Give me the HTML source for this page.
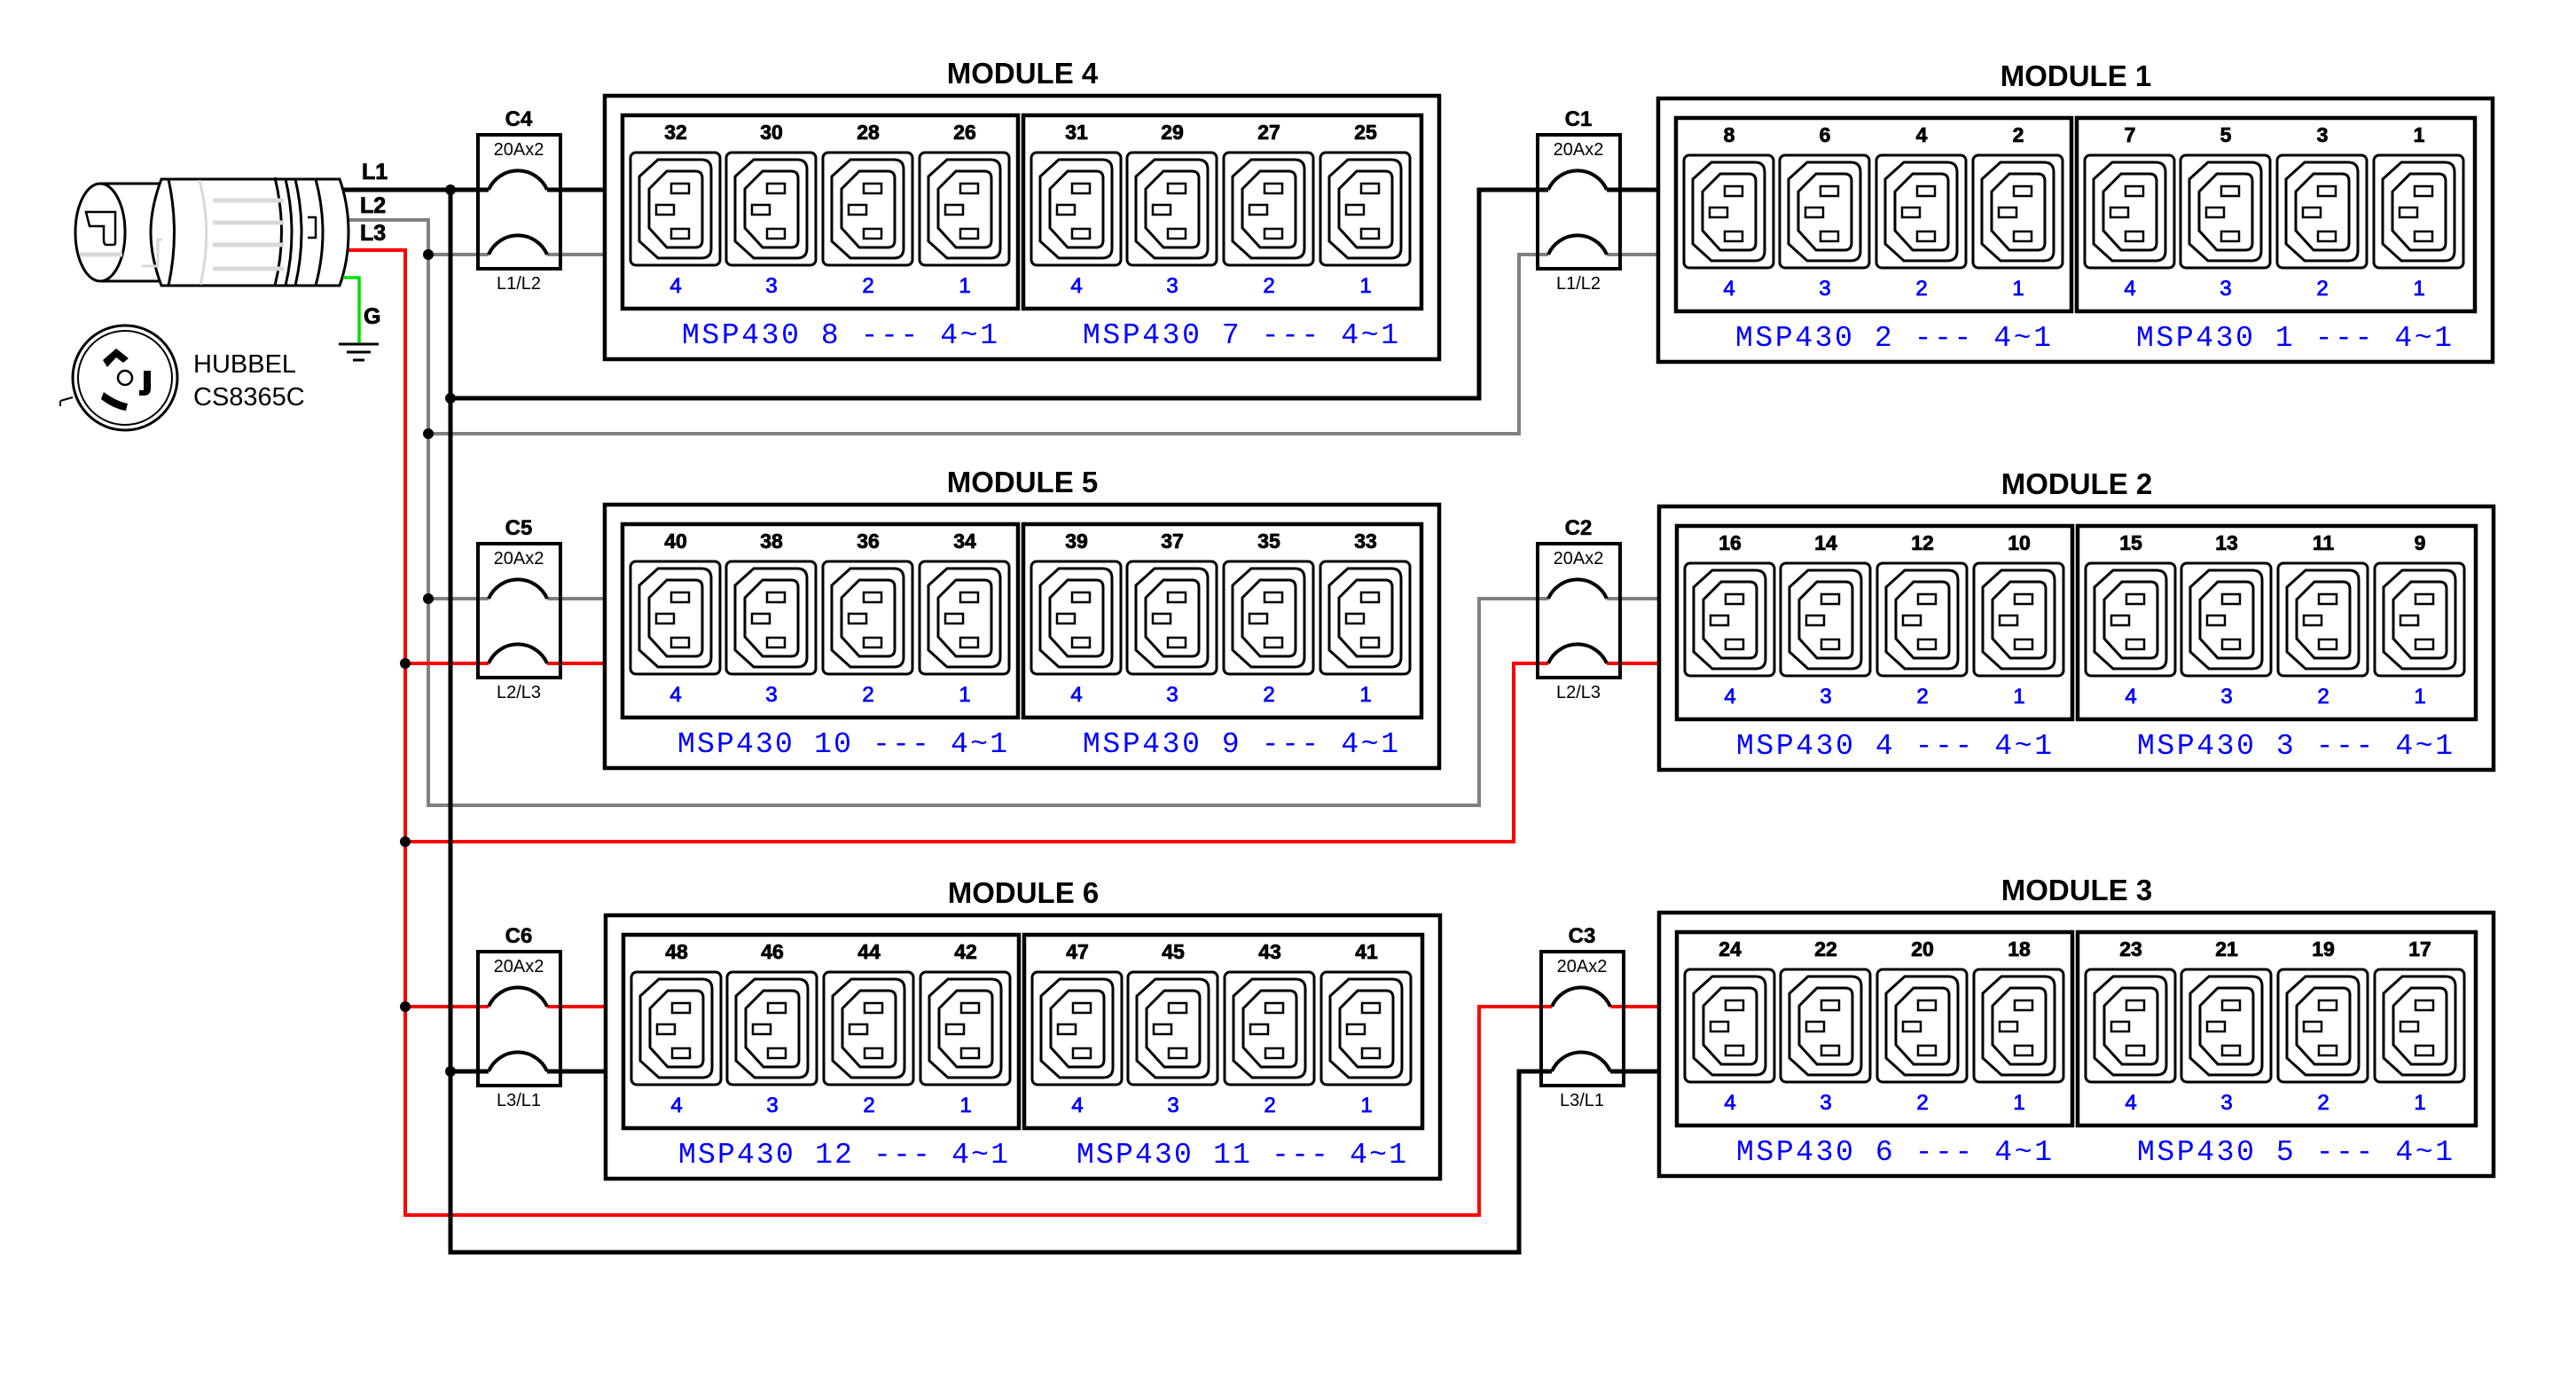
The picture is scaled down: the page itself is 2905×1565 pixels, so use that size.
<!DOCTYPE html>
<html><head><meta charset="utf-8"><style>
html,body{margin:0;padding:0;background:#fff;}
svg{display:block;}
text{font-family:"Liberation Sans",sans-serif;}
.t{font-weight:bold;font-size:33px;text-anchor:middle;}
.n{font-weight:bold;font-size:23px;text-anchor:middle;stroke:#000;stroke-width:0.8px;}
.b{font-size:24px;text-anchor:middle;fill:#00f;stroke:#00f;stroke-width:0.8px;}
.m{font-family:"Liberation Mono",monospace;font-size:33px;fill:#00f;}
.cl{font-weight:bold;font-size:24px;text-anchor:middle;stroke:#000;stroke-width:0.6px;}
.cs{font-size:20px;text-anchor:middle;}
</style></head><body>
<svg width="2905" height="1565" viewBox="0 0 2905 1565" xmlns="http://www.w3.org/2000/svg">
<defs>
<g id="o" fill="none" stroke="#000">
<rect x="1" y="1" width="101" height="127" rx="6" stroke-width="3"/>
<path d="M11,28 L32,9 H81 Q92,9 92,20 V109 Q92,120 81,120 H32 L11,101 Z" stroke-width="3"/>
<path d="M22,42 L42,22 H74 Q82,22 82,30 V100 Q82,108 74,108 H42 L22,86 Z" stroke-width="3"/>
<rect x="47" y="36" width="20" height="11" stroke-width="2.5"/>
<rect x="30" y="60" width="20" height="11" stroke-width="2.5"/>
<rect x="47" y="87" width="20" height="11" stroke-width="2.5"/>
</g>
<g id="mod">
<rect x="0" y="0" width="941" height="297" fill="none" stroke="#000" stroke-width="4.5"/>
<rect x="20" y="22" width="446" height="218" fill="none" stroke="#000" stroke-width="4.5"/>
<rect x="472" y="22" width="449" height="218" fill="none" stroke="#000" stroke-width="4.5"/>
<use href="#o" x="28" y="63"/><use href="#o" x="136" y="63"/><use href="#o" x="245" y="63"/><use href="#o" x="354" y="63"/>
<use href="#o" x="480" y="63"/><use href="#o" x="588" y="63"/><use href="#o" x="697" y="63"/><use href="#o" x="806" y="63"/>
<text class="b" x="80" y="222">4</text><text class="b" x="188" y="222">3</text><text class="b" x="297" y="222">2</text><text class="b" x="406" y="222">1</text>
<text class="b" x="532" y="222">4</text><text class="b" x="640" y="222">3</text><text class="b" x="749" y="222">2</text><text class="b" x="858" y="222">1</text>
</g>
<g id="brk">
<rect x="0" y="0" width="93" height="151" fill="none" stroke="#000" stroke-width="4"/>
<path d="M12,62 A36,36 0 0 1 78,62 M12,135 A36,36 0 0 1 78,135" fill="none" stroke="#000" stroke-width="4"/>
<text class="cs" x="46" y="23">20Ax2</text>
</g>
</defs>

<!-- wires -->
<g fill="none" stroke-linejoin="miter">
<g stroke="#808080" stroke-width="4">
<path d="M387,248 H483 V908 H1668 V675 H1746"/>
<path d="M483,287 H551 M617,287 H682"/>
<path d="M483,489 H1713 V287 H1746 M1812,287 H1870"/>
<path d="M483,675 H551 M617,675 H682 M1812,675 H1871"/>
</g>
<g stroke="#ff0000" stroke-width="4">
<path d="M387,282 H457 V1370 H1668 V1135 H1750"/>
<path d="M457,748 H551 M617,748 H682"/>
<path d="M457,949 H1707 V748 H1746 M1812,748 H1871"/>
<path d="M457,1135 H551 M617,1135 H683 M1816,1135 H1871"/>
</g>
<g stroke="#000" stroke-width="5">
<path d="M387,214 H551 M617,214 H682"/>
<path d="M508,214 V1412 H1713 V1208 H1750"/>
<path d="M508,449 H1668 V214 H1746 M1812,214 H1870"/>
<path d="M508,1208 H551 M617,1208 H683 M1816,1208 H1871"/>
</g>
</g>
<g fill="#000">
<circle cx="508" cy="214" r="6"/><circle cx="483" cy="287" r="6"/><circle cx="508" cy="449" r="6"/>
<circle cx="483" cy="489" r="6"/><circle cx="483" cy="675" r="6"/><circle cx="457" cy="748" r="6"/>
<circle cx="457" cy="949" r="6"/><circle cx="457" cy="1135" r="6"/><circle cx="508" cy="1208" r="6"/>
</g>

<!-- breakers -->
<use href="#brk" x="539" y="152"/><text class="cl" x="585" y="142">C4</text><text class="cs" x="585" y="326">L1/L2</text>
<use href="#brk" x="1734" y="152"/><text class="cl" x="1780" y="142">C1</text><text class="cs" x="1780" y="326">L1/L2</text>
<use href="#brk" x="539" y="613"/><text class="cl" x="585" y="603">C5</text><text class="cs" x="585" y="787">L2/L3</text>
<use href="#brk" x="1734" y="613"/><text class="cl" x="1780" y="603">C2</text><text class="cs" x="1780" y="787">L2/L3</text>
<use href="#brk" x="539" y="1073"/><text class="cl" x="585" y="1063">C6</text><text class="cs" x="585" y="1247">L3/L1</text>
<use href="#brk" x="1738" y="1073"/><text class="cl" x="1784" y="1063">C3</text><text class="cs" x="1784" y="1247">L3/L1</text>

<!-- modules -->
<g transform="translate(682,108)"><use href="#mod"/>
<text class="t" x="471" y="-14">MODULE 4</text>
<text class="n" x="80" y="49">32</text><text class="n" x="188" y="49">30</text><text class="n" x="297" y="49">28</text><text class="n" x="406" y="49">26</text>
<text class="n" x="532" y="49">31</text><text class="n" x="640" y="49">29</text><text class="n" x="749" y="49">27</text><text class="n" x="858" y="49">25</text>
<text class="m" x="87" y="279" textLength="356" lengthAdjust="spacing">MSP430 8 --- 4~1</text>
<text class="m" x="539" y="279" textLength="356" lengthAdjust="spacing">MSP430 7 --- 4~1</text>
</g>
<g transform="translate(1870,111)"><use href="#mod"/>
<text class="t" x="471" y="-14">MODULE 1</text>
<text class="n" x="80" y="49">8</text><text class="n" x="188" y="49">6</text><text class="n" x="297" y="49">4</text><text class="n" x="406" y="49">2</text>
<text class="n" x="532" y="49">7</text><text class="n" x="640" y="49">5</text><text class="n" x="749" y="49">3</text><text class="n" x="858" y="49">1</text>
<text class="m" x="87" y="279" textLength="356" lengthAdjust="spacing">MSP430 2 --- 4~1</text>
<text class="m" x="539" y="279" textLength="356" lengthAdjust="spacing">MSP430 1 --- 4~1</text>
</g>
<g transform="translate(682,569)"><use href="#mod"/>
<text class="t" x="471" y="-14">MODULE 5</text>
<text class="n" x="80" y="49">40</text><text class="n" x="188" y="49">38</text><text class="n" x="297" y="49">36</text><text class="n" x="406" y="49">34</text>
<text class="n" x="532" y="49">39</text><text class="n" x="640" y="49">37</text><text class="n" x="749" y="49">35</text><text class="n" x="858" y="49">33</text>
<text class="m" x="82" y="279" textLength="372" lengthAdjust="spacing">MSP430 10 --- 4~1</text>
<text class="m" x="539" y="279" textLength="356" lengthAdjust="spacing">MSP430 9 --- 4~1</text>
</g>
<g transform="translate(1871,571)"><use href="#mod"/>
<text class="t" x="471" y="-14">MODULE 2</text>
<text class="n" x="80" y="49">16</text><text class="n" x="188" y="49">14</text><text class="n" x="297" y="49">12</text><text class="n" x="406" y="49">10</text>
<text class="n" x="532" y="49">15</text><text class="n" x="640" y="49">13</text><text class="n" x="749" y="49">11</text><text class="n" x="858" y="49">9</text>
<text class="m" x="87" y="279" textLength="356" lengthAdjust="spacing">MSP430 4 --- 4~1</text>
<text class="m" x="539" y="279" textLength="356" lengthAdjust="spacing">MSP430 3 --- 4~1</text>
</g>
<g transform="translate(683,1032)"><use href="#mod"/>
<text class="t" x="471" y="-14">MODULE 6</text>
<text class="n" x="80" y="49">48</text><text class="n" x="188" y="49">46</text><text class="n" x="297" y="49">44</text><text class="n" x="406" y="49">42</text>
<text class="n" x="532" y="49">47</text><text class="n" x="640" y="49">45</text><text class="n" x="749" y="49">43</text><text class="n" x="858" y="49">41</text>
<text class="m" x="82" y="279" textLength="372" lengthAdjust="spacing">MSP430 12 --- 4~1</text>
<text class="m" x="531" y="279" textLength="372" lengthAdjust="spacing">MSP430 11 --- 4~1</text>
</g>
<g transform="translate(1871,1029)"><use href="#mod"/>
<text class="t" x="471" y="-14">MODULE 3</text>
<text class="n" x="80" y="49">24</text><text class="n" x="188" y="49">22</text><text class="n" x="297" y="49">20</text><text class="n" x="406" y="49">18</text>
<text class="n" x="532" y="49">23</text><text class="n" x="640" y="49">21</text><text class="n" x="749" y="49">19</text><text class="n" x="858" y="49">17</text>
<text class="m" x="87" y="279" textLength="356" lengthAdjust="spacing">MSP430 6 --- 4~1</text>
<text class="m" x="539" y="279" textLength="356" lengthAdjust="spacing">MSP430 5 --- 4~1</text>
</g>

<!-- plug -->
<g fill="none" stroke="#000" stroke-width="3">
<line x1="113" y1="207" x2="182" y2="207"/><line x1="113" y1="317" x2="182" y2="317"/>
<ellipse cx="113" cy="262" rx="28" ry="55" fill="#fff"/>
<path d="M97,239 H130 V274 Q130,276 127,276 H120 Q117,276 117,270 V255 H101 Z" stroke-width="2.5"/>
<path d="M182,202 H383 Q393,230 393,262 Q393,294 383,322 H182 Q170,290 170,262 Q170,234 182,202 Z" fill="#fff"/>
<path d="M190,202 Q203,262 190,322"/>
<path d="M310,200 Q325,262 310,322"/><path d="M322,202 Q336,262 322,322"/><path d="M333,202 Q347,262 333,322"/>
<path d="M356,202 Q372,262 356,322"/>
<path d="M347,245 H356 V268 H347" stroke-width="2.5"/>
</g>
<g stroke="#d8d8d8" stroke-width="5" fill="none">
<line x1="240" y1="226" x2="320" y2="226"/><line x1="240" y1="251" x2="320" y2="251"/>
<line x1="240" y1="276" x2="320" y2="276"/><line x1="240" y1="303" x2="320" y2="303"/>
<line x1="90" y1="287" x2="138" y2="287"/>
<path d="M225,203 Q240,262 226,321" stroke-width="3"/>
<path d="M160,300 H178 V270 H183" stroke-width="3"/>
</g>
<text x="408" y="202" style="font-weight:bold;font-size:25px;stroke:#000;stroke-width:0.8px">L1</text>
<text x="406" y="240" style="font-weight:bold;font-size:25px;stroke:#000;stroke-width:0.8px">L2</text>
<text x="406" y="271" style="font-weight:bold;font-size:25px;stroke:#000;stroke-width:0.8px">L3</text>
<path d="M387,313 H405 V388" fill="none" stroke="#00e000" stroke-width="3.5"/>
<g stroke="#000" stroke-width="3"><line x1="382" y1="388" x2="427" y2="388"/><line x1="391" y1="397" x2="418" y2="397"/><line x1="398" y1="406" x2="411" y2="406"/></g>
<text x="410" y="365" style="font-weight:bold;font-size:25px;stroke:#000;stroke-width:0.8px">G</text>

<!-- receptacle -->
<g fill="none" stroke="#000" stroke-width="3">
<circle cx="141" cy="426" r="59"/><circle cx="141" cy="426" r="53" stroke-width="2"/>
<circle cx="141" cy="426" r="8" stroke-width="2.5"/>
<path d="M68,452 L82,448 M68,452 V458" stroke-width="2"/>
</g>
<path d="M116,406 L131,393 L145,404 L139,409 L131,403 L121,414 Z" fill="#000"/>
<path d="M162,418 H170 V438 Q170,446 162,446 H157 V440 H162 Z" fill="#000"/>
<path d="M117,442 Q130,452 144,455 L142,463 Q128,461 114,450 Z" fill="#000"/>
<text x="218" y="420" style="font-size:29px">HUBBEL</text>
<text x="218" y="457" style="font-size:29px">CS8365C</text>
</svg>
</body></html>
